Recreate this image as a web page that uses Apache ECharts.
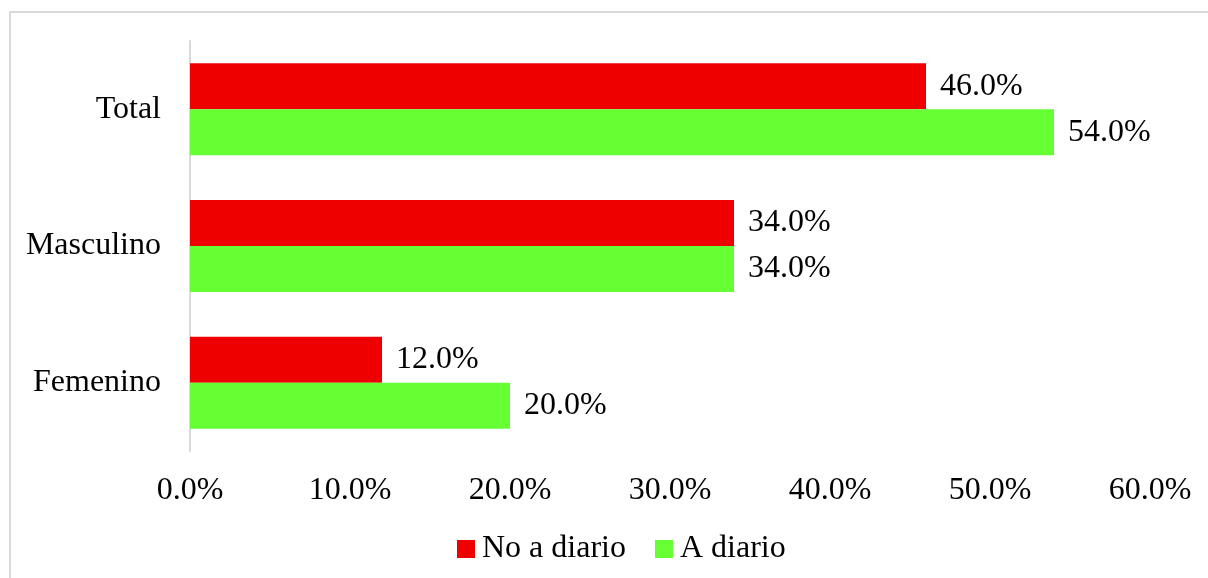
<!DOCTYPE html>
<html>
<head>
<meta charset="utf-8">
<script src="https://cdn.jsdelivr.net/npm/echarts@6/dist/echarts.min.js"></script>
<style>
  html, body { margin: 0; padding: 0; background: #fff; }
  #chart { width: 1208px; height: 578px; }
</style>
</head>
<body>
<div id="chart"></div>
<script>
// Categories listed top to bottom (y axis is inverted)
const categories = ['Total', 'Masculino', 'Femenino'];
const seriesNames = ['No a diario', 'A diario'];
const noDiario = [46.0, 34.0, 12.0];
const aDiario = [54.0, 34.0, 20.0];
const xTicks = [0, 10, 20, 30, 40, 50, 60];

const FONT = '"Liberation Serif", "Times New Roman", serif';
const FS = 32;

const chart = echarts.init(document.getElementById('chart'), null, { renderer: 'canvas' });

const labelStyle = {
  show: true,
  position: 'right',
  distance: 14,
  color: '#000',
  fontFamily: FONT,
  fontSize: FS,
  padding: [8, 0, 0, 0],
  formatter: p => p.value.toFixed(1) + '%'
};

chart.setOption({
  animation: false,
  backgroundColor: '#fff',
  graphic: [{
    type: 'rect',
    shape: { x: 10, y: 12, width: 1300, height: 700 },
    style: { fill: 'none', stroke: '#d9d9d9', lineWidth: 2 },
    silent: true,
    z: -1
  }],
  grid: { left: 190, right: 58, top: 41, bottom: 127, containLabel: false },
  legend: {
    data: seriesNames,
    bottom: 8,
    left: 452,
    itemWidth: 18,
    itemHeight: 18,
    itemGap: 29,
    icon: 'rect',
    textStyle: { fontFamily: FONT, fontSize: FS, color: '#000', padding: [2, 0, 0, 2] }
  },
  xAxis: {
    type: 'value',
    min: xTicks[0],
    max: xTicks[xTicks.length - 1],
    interval: 10,
    axisLine: { show: false },
    axisTick: { show: false },
    splitLine: { show: false },
    axisLabel: {
      margin: 24,
      color: '#000',
      fontFamily: FONT,
      fontSize: FS,
      formatter: v => v.toFixed(1) + '%'
    }
  },
  yAxis: {
    type: 'category',
    data: categories,
    inverse: true,
    axisLine: { show: true, lineStyle: { color: '#d9d9d9', width: 2 } },
    axisTick: { show: false },
    axisLabel: { margin: 29, color: '#000', fontFamily: FONT, fontSize: FS, padding: [8, 0, 0, 0] }
  },
  series: [
    {
      name: seriesNames[0],
      type: 'bar',
      data: noDiario,
      barWidth: 46,
      barGap: '0%',
      itemStyle: { color: '#EE0000' },
      label: labelStyle
    },
    {
      name: seriesNames[1],
      type: 'bar',
      data: aDiario,
      barWidth: 46,
      barGap: '0%',
      itemStyle: { color: '#66FF33' },
      label: labelStyle
    }
  ]
});
</script>
</body>
</html>
